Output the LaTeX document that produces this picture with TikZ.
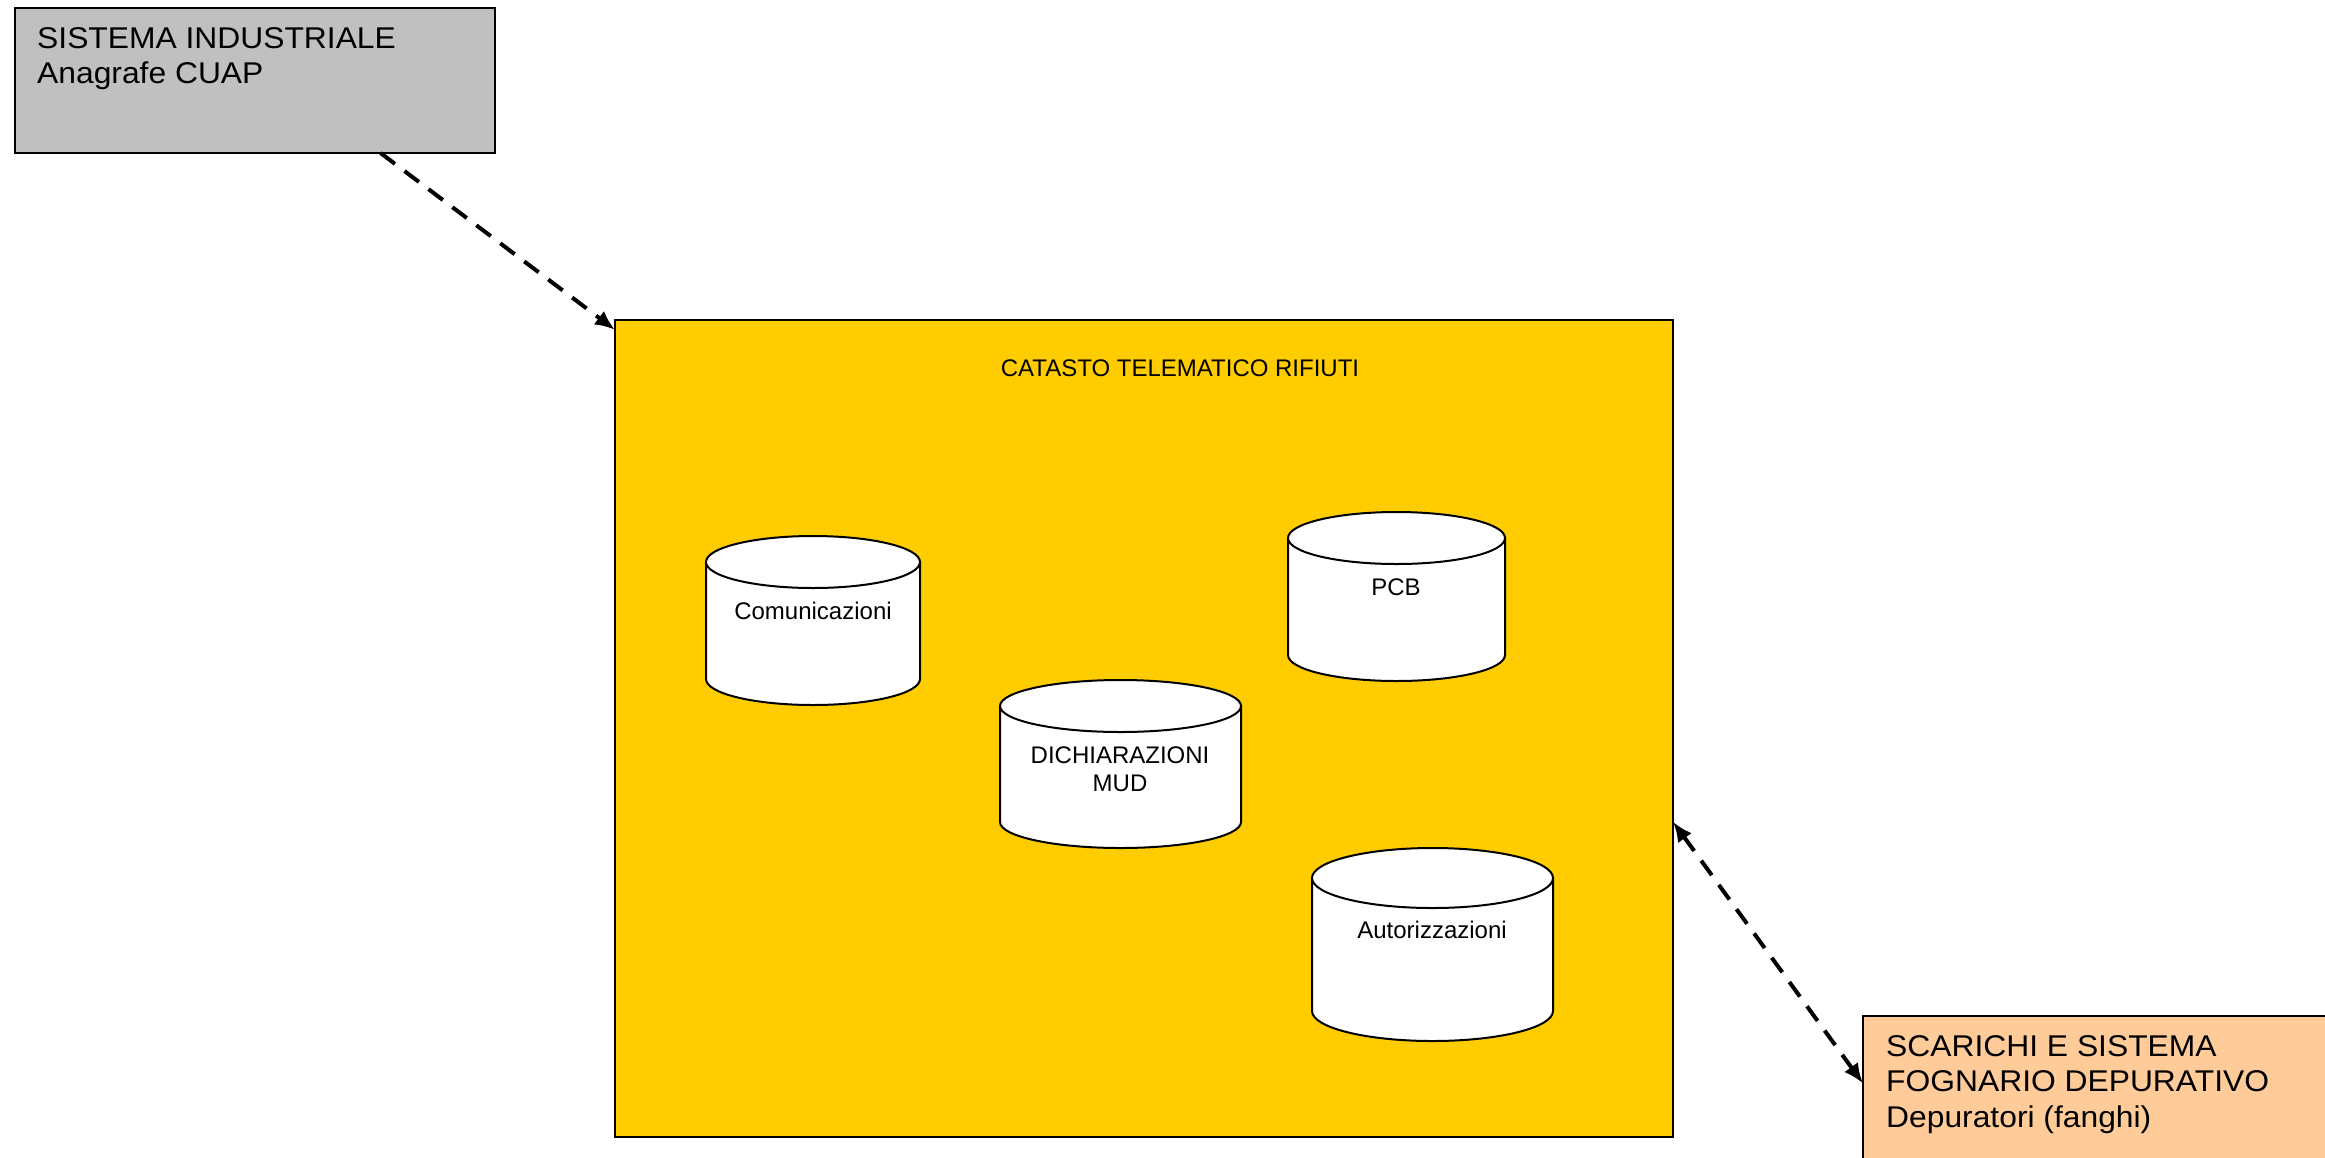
\documentclass[tikz,border=0pt]{standalone}
\usepackage{fontspec}
\setmainfont{Liberation Sans}
\newfontfamily\bigfont[FakeStretch=1.06]{Liberation Sans}
\usetikzlibrary{arrows.meta}
\definecolor{grayfill}{HTML}{C0C0C0}
\definecolor{yellowfill}{HTML}{FFCC00}
\definecolor{orangefill}{HTML}{FFCC99}
\begin{document}
\begin{tikzpicture}[x=1pt,y=-1pt,
  box/.style={draw=black, line width=2pt, inner sep=0pt, outer sep=0pt, anchor=north west},
  bigtext/.style={font=\bigfont\fontsize{30}{35.7}\selectfont, align=left, inner sep=0pt, anchor=north west},
  smalltext/.style={font=\fontsize{24}{28}\selectfont, align=center, inner sep=0pt},
  conn/.style={line width=4pt, dash pattern=on 18pt off 12pt},
  cyl/.style={draw=black, line width=2pt, fill=white}
]
\useasboundingbox (0,0) rectangle (2325,1157);
\fill[white] (0,0) rectangle (2325,1157);
% boxes
\node[box, fill=grayfill, minimum width=480pt, minimum height=145pt] (gray) at (15,8) {};
\node[box, fill=yellowfill, minimum width=1058pt, minimum height=817pt] (yellow) at (615,320) {};
\node[box, fill=orangefill, minimum width=480pt, minimum height=160pt] (orange) at (1863,1016) {};
% texts
\node[bigtext] (graytxt) at (37,27) {SISTEMA INDUSTRIALE\\Anagrafe CUAP};
\node[bigtext] (orangetxt) at (1886,1035) {SCARICHI E SISTEMA\\FOGNARIO DEPURATIVO\\Depuratori (fanghi)};
\node[smalltext] (title) at (1180,368) {CATASTO TELEMATICO RIFIUTI};
% cylinders
\filldraw[cyl] (706,562) -- (706,679) arc[start angle=180,end angle=360,x radius=107pt,y radius=26pt] -- (920,562) -- cycle;
\filldraw[cyl] (813,562) ellipse[x radius=107pt,y radius=26pt];
\node[smalltext] (comm) at (813,611) {Comunicazioni};
\filldraw[cyl] (1288,538) -- (1288,655) arc[start angle=180,end angle=360,x radius=108.5pt,y radius=26pt] -- (1505,538) -- cycle;
\filldraw[cyl] (1396.5,538) ellipse[x radius=108.5pt,y radius=26pt];
\node[smalltext] (pcb) at (1396,587) {PCB};
\filldraw[cyl] (1000,706) -- (1000,822) arc[start angle=180,end angle=360,x radius=120.5pt,y radius=26pt] -- (1241,706) -- cycle;
\filldraw[cyl] (1120.5,706) ellipse[x radius=120.5pt,y radius=26pt];
\node[smalltext] (mud) at (1120,769) {DICHIARAZIONI\\MUD};
\filldraw[cyl] (1312,878) -- (1312,1011) arc[start angle=180,end angle=360,x radius=120.5pt,y radius=30pt] -- (1553,878) -- cycle;
\filldraw[cyl] (1432.5,878) ellipse[x radius=120.5pt,y radius=30pt];
\node[smalltext] (aut) at (1432,930) {Autorizzazioni};
% connectors
\draw[conn, -{Latex[length=20pt,width=17pt]}] (gray.-30.52) -- (yellow.143.92);
\draw[conn, {Latex[length=20pt,width=17pt]}-{Latex[length=20pt,width=17pt]}] (yellow.-10.34) -- (orange.177.85);
\end{tikzpicture}
\end{document}
